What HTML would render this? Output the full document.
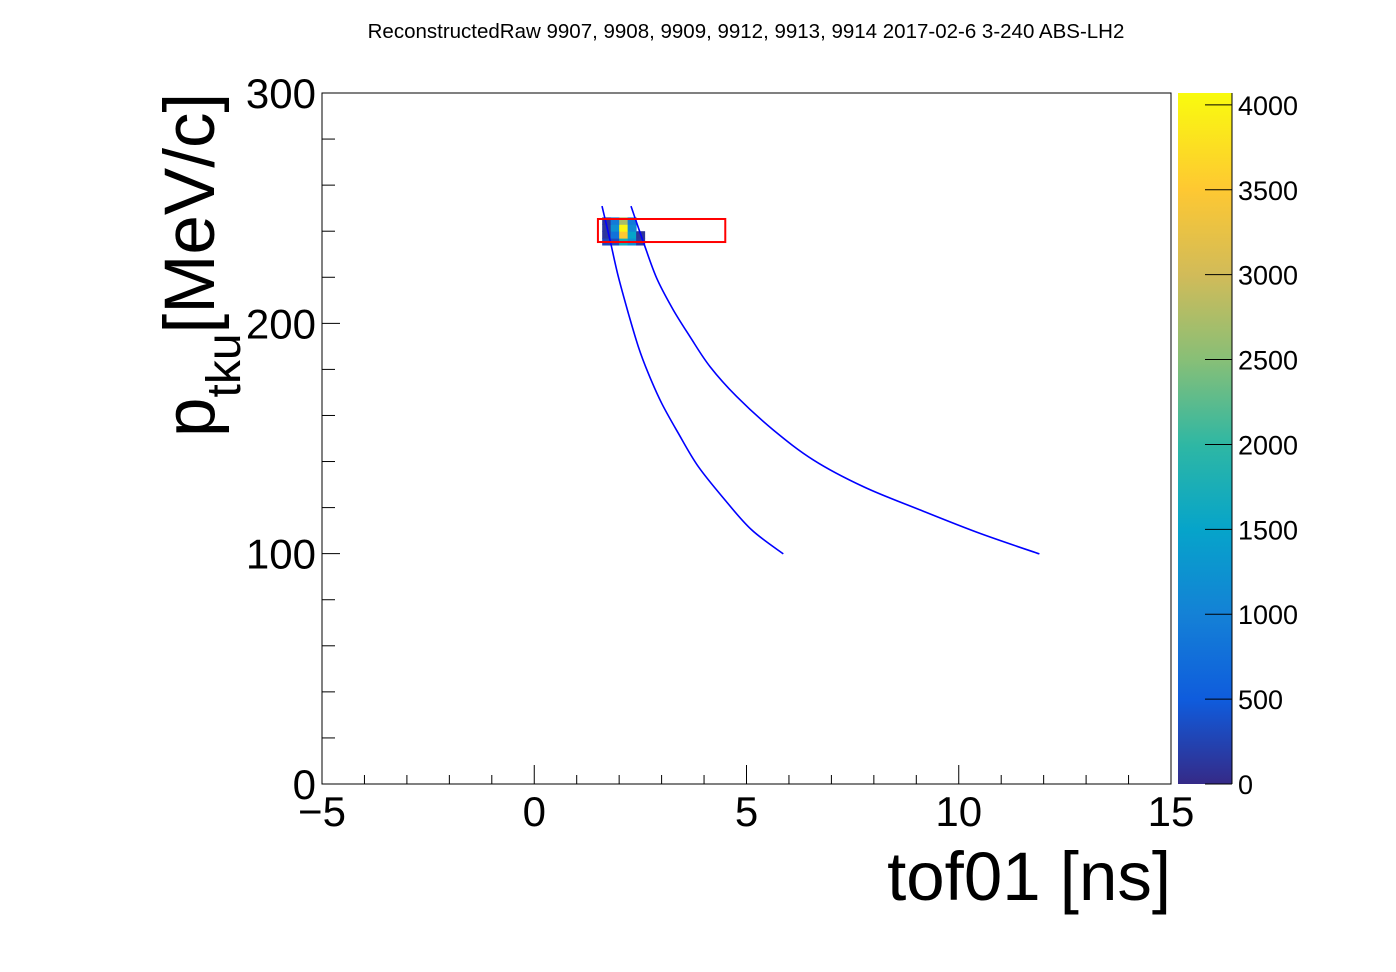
<!DOCTYPE html>
<html><head><meta charset="utf-8"><style>
html,body{margin:0;padding:0;background:#fff;}
svg{display:block;font-family:"Liberation Sans",Arial,sans-serif;}
</style></head><body>
<svg id="c" width="1396" height="972" viewBox="0 0 1396 972">
<defs><linearGradient id="bird" x1="0" y1="1" x2="0" y2="0">
<stop offset="0" stop-color="#352a87"/><stop offset="0.122" stop-color="#0f5cdd"/>
<stop offset="0.245" stop-color="#1481d6"/><stop offset="0.368" stop-color="#06a4ca"/>
<stop offset="0.49" stop-color="#2eb7a4"/><stop offset="0.613" stop-color="#87bf77"/>
<stop offset="0.736" stop-color="#d1bb59"/><stop offset="0.86" stop-color="#fec832"/>
<stop offset="1" stop-color="#f9fb0e"/></linearGradient></defs>
<text x="746" y="38" font-size="20.5" text-anchor="middle">ReconstructedRaw 9907, 9908, 9909, 9912, 9913, 9914 2017-02-6 3-240 ABS-LH2</text>
<g id="plot"></g>
</svg>
<script>
const xTicks=[-5,0,5,10,15];
const yTicks=[0,100,200,300];
const zTicks=[0,500,1000,1500,2000,2500,3000,3500,4000];
const binX=[1.6,1.8,2.0,2.2,2.4];
const binY=[234,237,240,243];
const counts=[ // rows by binY, cols by binX
 [300,300,1700,1200,150],
 [120,800,3500,1500,100],
 [120,1200,4000,1100,0],
 [100,900,2700,900,0]];
const curve1X=[1.596,1.784,1.980,2.216,2.451,2.687,3.002,3.393,3.865,4.494,5.122,5.867];
const curve1Y=[250.9,236.2,220.3,204.4,189.9,178.3,165.3,152.3,137.8,123.3,110.3,99.9];
const curve2X=[2.279,2.569,2.885,3.276,3.669,4.140,4.769,5.631,6.574,7.752,9.087,10.50,11.90];
const curve2Y=[250.9,235.4,219.6,205.8,194.2,181.2,168.2,153.7,140.7,129.1,119.0,108.8,99.9];
const cutBox=[1.5,4.5,235.3,245.3];
const zMax=4070;

const NS='http://www.w3.org/2000/svg';
const g=document.getElementById('plot');
const X0=322,X1=1171,Y0=784,Y1=93;
const sx=v=>X0+(v+5)/20*(X1-X0);
const sy=v=>Y0-v/300*(Y0-Y1);
const sz=v=>Y0-v/zMax*(Y0-Y1);
function mk(t,a){const e=document.createElementNS(NS,t);for(const k in a)e.setAttribute(k,a[k]);g.appendChild(e);return e;}
const stops=[[0,'#352a87'],[500,'#0f5cdd'],[1000,'#1481d6'],[1500,'#06a4ca'],[2000,'#2eb7a4'],[2500,'#87bf77'],[3000,'#d1bb59'],[3500,'#fec832'],[4070,'#f9fb0e']];
function col(v){for(let i=1;i<stops.length;i++){if(v<=stops[i][0]){const a=stops[i-1],b=stops[i],t=(v-a[0])/(b[0]-a[0]);const h=s=>[1,3,5].map(j=>parseInt(s.substr(j,2),16));const A=h(a[1]),B=h(b[1]);return 'rgb('+A.map((x,k)=>Math.round(x+(B[k]-x)*t)).join(',')+')';}}return stops[stops.length-1][1];}

let e=mk('rect',{x:X0,y:Y1,width:X1-X0,height:Y0-Y1,fill:'none',stroke:'#000','stroke-width':1});


counts.forEach((row,r)=>row.forEach((v,c)=>{if(v<=0)return;
 const x=sx(binX[c]),w=sx(binX[c]+0.2)-x,y=sy(binY[r]+3),h=sy(binY[r])-y;
 const rc=mk('rect',{x:x,y:y,width:w+0.5,height:h+0.5,fill:col(v)});
 
 
}));
function line(xs,ys,name){
 const P=xs.map((x,i)=>[sx(x),sy(ys[i])]);
 let d='M'+P[0][0].toFixed(1)+' '+P[0][1].toFixed(1);
 for(let i=0;i<P.length-1;i++){const p0=P[i-1]||P[i],p1=P[i],p2=P[i+1],p3=P[i+2]||p2;
  const c1=[p1[0]+(p2[0]-p0[0])/6,p1[1]+(p2[1]-p0[1])/6],c2=[p2[0]-(p3[0]-p1[0])/6,p2[1]-(p3[1]-p1[1])/6];
  d+=' C'+c1.map(v=>v.toFixed(1)).join(' ')+' '+c2.map(v=>v.toFixed(1)).join(' ')+' '+p2.map(v=>v.toFixed(1)).join(' ');}
 const p=mk('path',{d:d,fill:'none',stroke:'#0000ff','stroke-width':1.6});
 
 }
line(curve1X,curve1Y,'curve-left');
line(curve2X,curve2Y,'curve-right');
e=mk('rect',{x:sx(cutBox[0]),y:sy(cutBox[3]),width:sx(cutBox[1])-sx(cutBox[0]),height:sy(cutBox[2])-sy(cutBox[3]),fill:'none',stroke:'#ff0000','stroke-width':2});


for(let v=-5;v<=15;v++){const maj=v%5===0;const t=mk('line',{x1:sx(v),x2:sx(v),y1:Y0,y2:Y0-(maj?19:9),stroke:'#000'});
 
 }
xTicks.forEach(v=>{const t=mk('text',{x:sx(v),y:826,'font-size':42,'text-anchor':'middle'});t.textContent=v<0?'\u2212'+(-v):v;
 
 });
for(let v=0;v<=300;v+=20){const maj=v%100===0;const t=mk('line',{x1:X0,x2:X0+(maj?18:13),y1:sy(v),y2:sy(v),stroke:'#000'});
 
 }
yTicks.forEach(v=>{const t=mk('text',{x:316,y:sy(v)+15,'font-size':42,'text-anchor':'end'});t.textContent=v;
 
 });
e=mk('text',{x:1171,y:900,'font-size':69,'text-anchor':'end'});e.textContent='tof01 [ns]';


e=mk('text',{transform:'translate(214,437) rotate(-90)','font-size':71});
e.innerHTML='p<tspan font-size="48" dy="26">tku</tspan><tspan dy="-26">[MeV/c]</tspan>';


e=mk('rect',{x:1178,y:Y1,width:54,height:Y0-Y1,fill:'url(#bird)'});


zTicks.forEach(v=>{const t=mk('line',{x1:1205,x2:1232,y1:sz(v),y2:sz(v),stroke:'#000'});
 
 
 const l=mk('text',{x:1238,y:sz(v)+10,'font-size':27});l.textContent=v;
 
 });
e=mk('line',{x1:1232,x2:1232,y1:Y1,y2:Y0,stroke:'#000'});


</script>
</body></html>
